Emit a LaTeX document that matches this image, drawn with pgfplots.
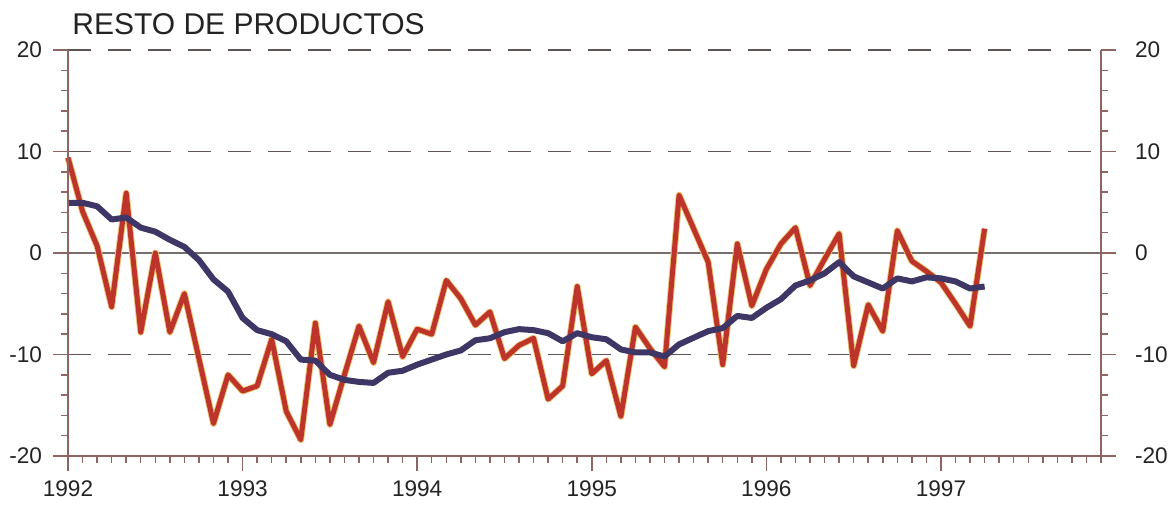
\documentclass[border=0pt]{standalone}
\usepackage{pgfplots}
\usepackage{pgfplotstable}
\pgfplotsset{compat=1.18}
\usepackage{fontspec}
\setmainfont{Liberation Sans}
\definecolor{redl}{RGB}{188,52,42}
\definecolor{bluel}{RGB}{62,54,100}
\definecolor{axc}{RGB}{145,100,100}
\definecolor{gridc}{RGB}{95,85,85}
\definecolor{zeroc}{RGB}{120,110,110}
\definecolor{txt}{RGB}{35,35,35}
\definecolor{halo}{RGB}{238,196,120}

\pgfplotstableread{
m r b
0 9.4 4.95
1 4.1 4.95
2 0.7 4.6
3 -5.3 3.3
4 5.9 3.5
5 -7.8 2.5
6 0.0 2.1
7 -7.8 1.3
8 -4.0 0.6
9 -10.4 -0.7
10 -16.8 -2.6
11 -12.0 -3.8
12 -13.6 -6.4
13 -13.1 -7.6
14 -8.5 -8.0
15 -15.6 -8.7
16 -18.4 -10.5
17 -6.9 -10.6
18 -16.9 -12.0
19 -12.0 -12.5
20 -7.2 -12.7
21 -10.8 -12.8
22 -4.8 -11.8
23 -10.2 -11.6
24 -7.5 -11.0
25 -8.0 -10.5
26 -2.7 -10.0
27 -4.5 -9.6
28 -7.1 -8.6
29 -5.8 -8.4
30 -10.4 -7.8
31 -9.1 -7.5
32 -8.4 -7.6
33 -14.4 -7.9
34 -13.1 -8.7
35 -3.3 -7.9
36 -11.9 -8.3
37 -10.6 -8.5
38 -16.1 -9.5
39 -7.3 -9.8
40 -9.4 -9.8
41 -11.2 -10.2
42 5.7 -9.0
43 2.4 -8.35
44 -0.9 -7.7
45 -11.0 -7.4
46 0.9 -6.2
47 -5.2 -6.4
48 -1.6 -5.4
49 0.9 -4.55
50 2.5 -3.2
51 -3.2 -2.7
52 -0.6 -2.0
53 1.9 -0.9
54 -11.1 -2.3
55 -5.1 -2.9
56 -7.7 -3.5
57 2.2 -2.5
58 -0.8 -2.8
59 -1.8 -2.4
60 -2.9 -2.5
61 -5.0 -2.8
62 -7.2 -3.5
63 2.4 -3.3
}\data

\begin{document}
\begin{tikzpicture}
\useasboundingbox (0,0) rectangle (586.5pt,254.5pt);
\pgfplotsset{common/.style={
  scale only axis, width=516.5pt, height=203pt,
  at={(34pt,26.5pt)}, anchor=south west,
  xmin=0, xmax=71, ymin=-20, ymax=20,
  axis line style={draw=none},
  tick align=outside,
  tick style={axc, line width=0.75pt},
  major tick length=7.5pt, minor tick length=3.5pt,
  ytick={-20,-10,0,10,20}, minor ytick={-18,-16,...,18},
  ticklabel style={font=\fontsize{11.3}{13}\selectfont, text=txt},
  /pgf/number format/assume math mode=true,
  clip=false}}
\begin{axis}[common,
  xtick={0,12,24,36,48,60},
  xticklabels={1992,1993,1994,1995,1996,1997},
  minor xtick={1,...,71},
  xtick pos=bottom, ytick pos=left,
  xticklabel style={yshift=-1.5pt},
  yticklabel style={xshift=-2pt}]
\addplot[gridc, line width=0.75pt, dash pattern=on 11.5pt off 8.5pt, forget plot] coordinates {(0,20) (71,20)};
\addplot[gridc, line width=0.75pt, dash pattern=on 11.5pt off 8.5pt, forget plot] coordinates {(0,10) (71,10)};
\addplot[gridc, line width=0.75pt, dash pattern=on 11.5pt off 8.5pt, forget plot] coordinates {(0,-10) (71,-10)};
\addplot[zeroc, line width=0.6pt, forget plot] coordinates {(0,0) (71,0)};
\addplot[halo, line width=3.4pt, line join=round] table[x=m,y=r]{\data};
\addplot[redl, line width=2.5pt, line join=round] table[x=m,y=r]{\data};
\addplot[bluel, line width=3pt, line join=round] table[x=m,y=b]{\data};
\draw[axc, line width=0.75pt] (axis cs:0,20) -- (axis cs:0,-20) -- (axis cs:71,-20) -- (axis cs:71,20);
\end{axis}
\begin{axis}[common,
  xtick=\empty,
  ytick pos=right, yticklabel pos=right,
  yticklabel style={xshift=6pt}]
\end{axis}
\node[anchor=base west, inner sep=0pt, text=txt, font=\fontsize{15}{17}\selectfont] at (36pt,237pt) {RESTO DE PRODUCTOS};
\end{tikzpicture}
\end{document}
